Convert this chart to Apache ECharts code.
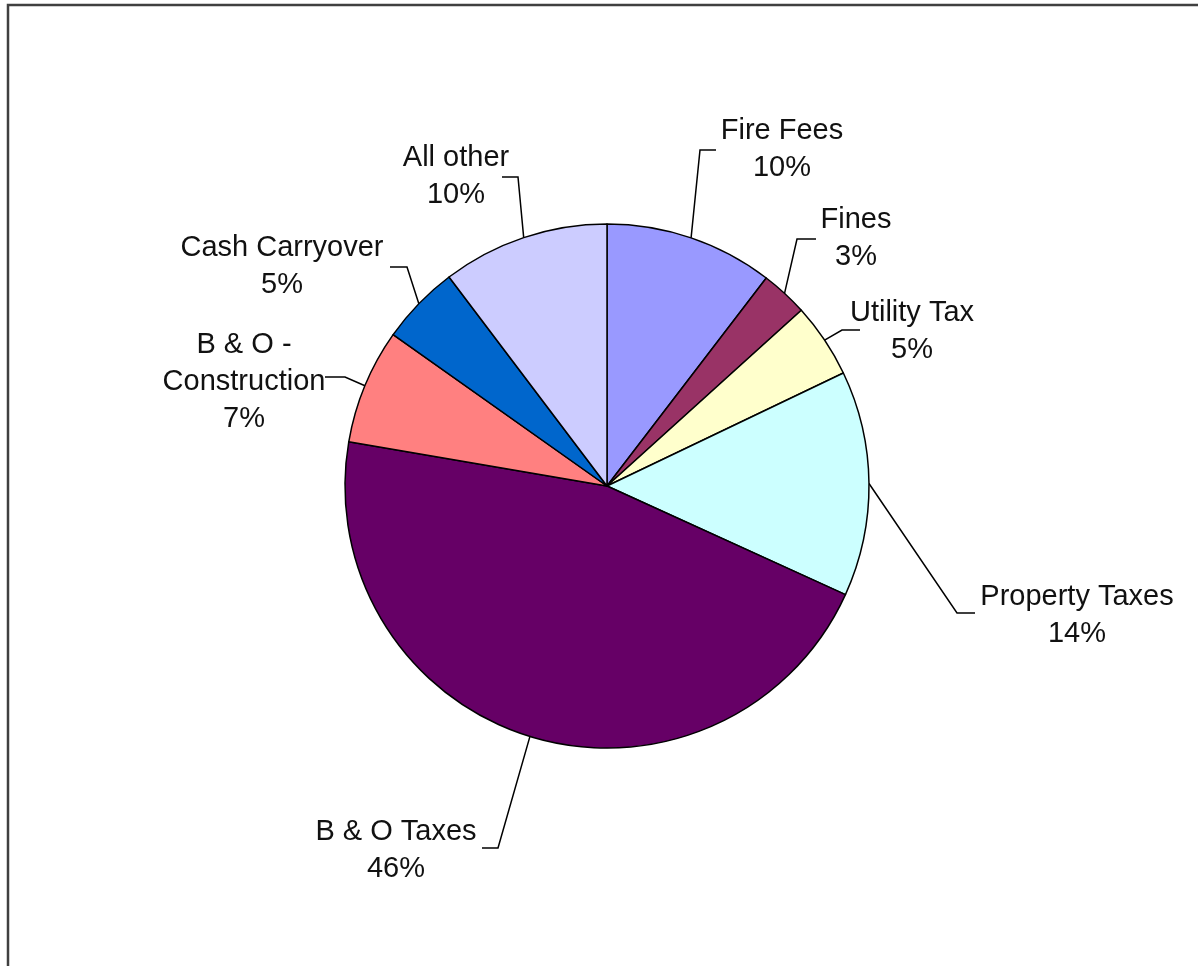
<!DOCTYPE html>
<html>
<head>
<meta charset="utf-8">
<script src="https://cdn.jsdelivr.net/npm/echarts@6/dist/echarts.min.js"></script>
<style>
  html, body { margin: 0; padding: 0; background: #fff; }
  #chart { width: 1198px; height: 966px; }
</style>
</head>
<body>
<div id="chart"></div>
<script>
// ---- data ----
const categories = ['Fire Fees', 'Fines', 'Utility Tax', 'Property Taxes', 'B & O Taxes', 'B & O -\nConstruction', 'Cash Carryover', 'All other'];
const shares = [10.4, 2.9, 4.6, 13.9, 45.9, 7.1, 4.9, 10.3];

// ---- styles / layout (not data) ----
const sliceColors = ['#9999FF', '#993366', '#FFFFCC', '#CCFFFF', '#660066', '#FF8080', '#0066CC', '#CCCCFF'];
// label block centre, leader bend point, leader end point (pixels)
const labelPlacement = [
  { c: [782, 149], bend: [700, 150], end: [716, 150] },
  { c: [856, 238], bend: [797, 239], end: [816, 239] },
  { c: [912, 331], bend: [842, 330], end: [860, 330] },
  { c: [1077, 615], bend: [957, 613], end: [975, 613] },
  { c: [396, 850], bend: [498, 848], end: [482, 848] },
  { c: [244, 382], bend: [345, 377], end: [325, 377] },
  { c: [282, 266], bend: [407, 267], end: [390, 267] },
  { c: [456, 176], bend: [518, 177], end: [502, 177] }
];

const chart = echarts.init(document.getElementById('chart'), null, { renderer: 'canvas' });
chart.setOption({
  backgroundColor: '#ffffff',
  animation: false,
  graphic: [{
    type: 'polyline',
    shape: { points: [[8, 966], [8, 5], [1198, 5]] },
    style: { stroke: '#404040', lineWidth: 2.5, fill: null },
    z: 100
  }],
  series: [{
    type: 'pie',
    center: [607, 486],
    radius: 262,
    startAngle: 90,
    clockwise: true,
    avoidLabelOverlap: false,
    percentPrecision: 0,
    data: categories.map((n, i) => ({ name: n, value: shares[i], itemStyle: { color: sliceColors[i] } })),
    itemStyle: { borderColor: '#000000', borderWidth: 1.5 },
    label: {
      show: true,
      position: 'outside',
      formatter: '{b}\n{d}%',
      fontFamily: 'Liberation Sans, Arial, sans-serif',
      fontSize: 29,
      lineHeight: 37,
      color: '#111111',
      align: 'center'
    },
    labelLine: {
      show: true,
      length: 20,
      length2: 20,
      lineStyle: { color: '#000000', width: 1.5 }
    },
    labelLayout: function (params) {
      const p = labelPlacement[params.dataIndex];
      const start = params.labelLinePoints ? params.labelLinePoints[0] : p.bend;
      return {
        x: p.c[0],
        y: p.c[1],
        align: 'center',
        verticalAlign: 'middle',
        labelLinePoints: [start, p.bend, p.end]
      };
    },
    emphasis: { disabled: true }
  }]
});
</script>
</body>
</html>
